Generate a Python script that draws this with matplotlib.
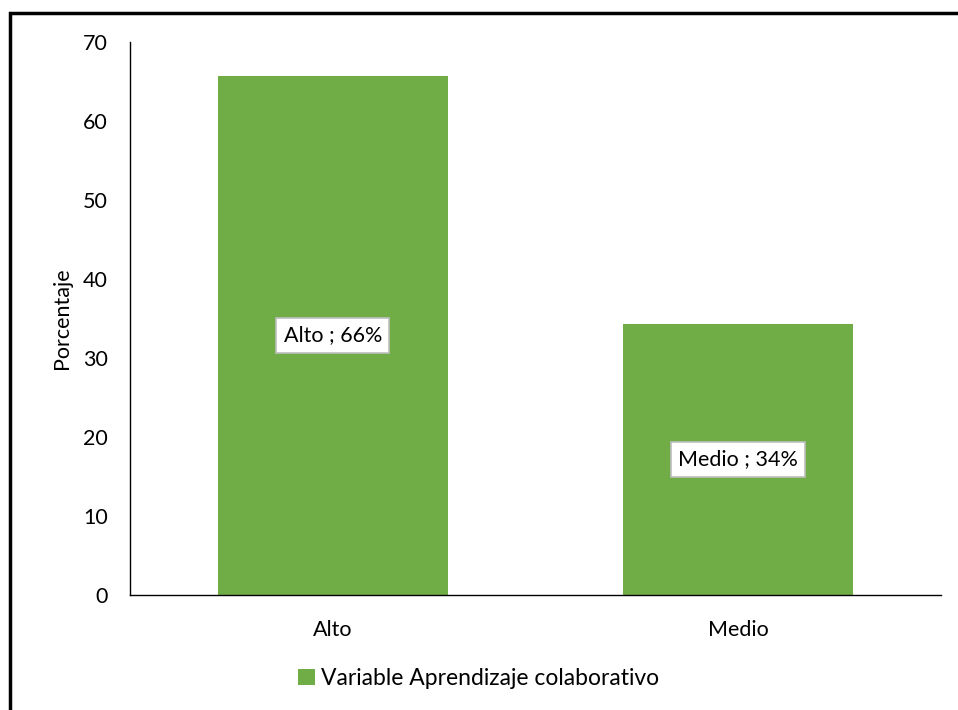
import matplotlib.pyplot as plt
from matplotlib.patches import Rectangle

categories = ["Alto", "Medio"]
values = [65.7, 34.3]
bar_labels = ["Alto ; 66%", "Medio ; 34%"]
series_name = "Variable Aprendizaje colaborativo"
yticks = [0, 10, 20, 30, 40, 50, 60, 70]

plt.rcParams['font.family'] = ['Lato', 'DejaVu Sans']

fig = plt.figure(figsize=(9.58, 7.1), dpi=100)
ax = fig.add_axes([0.1357, 0.162, 0.8466, 0.7788])

green = "#70AD47"
fs = 15.5
x = list(range(len(categories)))
bars = ax.bar(x, values, width=0.567, color=green, label=series_name)

ax.set_xlim(-0.5, 1.5)
ax.set_ylim(0, 70)
ax.set_yticks(yticks)
ax.set_xticks(x)
ax.set_xticklabels(categories)
ax.tick_params(axis="both", length=0, labelsize=fs)
ax.tick_params(axis="y", pad=16)
ax.tick_params(axis="x", pad=18)
for s in ["top", "right"]:
    ax.spines[s].set_visible(False)
ax.spines["left"].set_linewidth(1.0)
ax.spines["bottom"].set_linewidth(1.0)
ax.set_ylabel("Porcentaje", fontsize=fs, labelpad=8)

# data labels in boxes, centred in the bar
for xi, v, lab in zip(x, values, bar_labels):
    ax.text(xi, v / 2, lab, ha="center", va="center", fontsize=fs,
            bbox=dict(boxstyle="square,pad=0.33", facecolor="white",
                      edgecolor="#BFBFBF", linewidth=1.2))

fig.legend(handles=[bars], labels=[series_name], loc="center",
           bbox_to_anchor=(0.5, 0.045), frameon=False, fontsize=16.5,
           handlelength=0.7, handleheight=0.7, handletextpad=0.3)

# outer frame
fig.patches.append(Rectangle((10 / 958, -0.05), 1.1, 1 - 13 / 710 + 0.05,
                             transform=fig.transFigure, fill=False,
                             edgecolor="black", linewidth=2.5))

fig.savefig("out.png", dpi=100)
